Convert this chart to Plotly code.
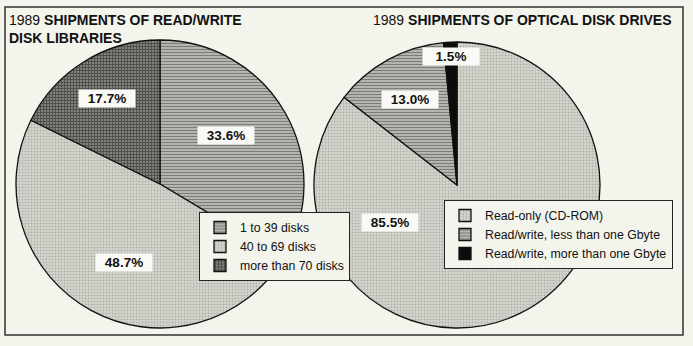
import math
import plotly.graph_objects as go

W, H = 693, 346

# ---- data ----
lib_labels = ["1 to 39 disks", "40 to 69 disks", "more than 70 disks"]
lib_values = [33.6, 48.7, 17.7]
drv_labels = ["Read-only (CD-ROM)", "Read/write, less than one Gbyte", "Read/write, more than one Gbyte"]
drv_values = [85.5, 13.0, 1.5]

title_left = "1989 <b>SHIPMENTS OF READ/WRITE</b><br><b>DISK LIBRARIES</b>"
title_right = "1989 <b>SHIPMENTS OF OPTICAL DISK DRIVES</b>"

# ---- style ----
BG = "#f3f4ec"
FONT = "Liberation Sans, Arial, sans-serif"

# pie geometry (pixels): center x, center y, radius
left_geo = (160, 184, 144)
right_geo = (457, 185, 143)

# label placement: (angle offset deg from slice middle, radial fraction)
lib_label_pos = [(-7, 0.57), (-4, 0.60), (0, 0.70)]
drv_label_pos = [(87, 0.54), (0, 0.68), (0, 0.90)]


def domain(geo):
    cx, cy, r = geo
    return dict(x=[(cx - r) / W, (cx + r) / W], y=[1 - (cy + r) / H, 1 - (cy - r) / H])


fig = go.Figure()

fig.add_trace(go.Pie(
    labels=lib_labels, values=lib_values, sort=False, direction="clockwise", rotation=0,
    domain=domain(left_geo), textinfo="none", hoverinfo="label+percent",
    marker=dict(
        colors=["#bfc1b9", "#cfd1c9", "#6a6c66"],
        line=dict(color="#111111", width=1.3),
        pattern=dict(shape=["-", ".", "+"],
                     fgcolor=["#2e2f2c", "#8a8c86", "#141514"],
                     bgcolor=["#c6c8c0", "#d4d6ce", "#80827c"],
                     size=[3, 3, 3], solidity=[0.5, 0.35, 0.5], fillmode="overlay"),
    ),
    legend="legend", showlegend=True,
))

fig.add_trace(go.Pie(
    labels=drv_labels, values=drv_values, sort=False, direction="clockwise", rotation=0,
    domain=domain(right_geo), textinfo="none", hoverinfo="label+percent",
    marker=dict(
        colors=["#cfd1c9", "#bfc1b9", "#0c0c0c"],
        line=dict(color="#111111", width=1.3),
        pattern=dict(shape=[".", "-", ""],
                     fgcolor=["#8a8c86", "#2e2f2c", "#0c0c0c"],
                     bgcolor=["#d4d6ce", "#c6c8c0", "#0c0c0c"],
                     size=[3, 3, 3], solidity=[0.35, 0.5, 0.5], fillmode="overlay"),
    ),
    legend="legend2", showlegend=True,
))


def label_annotations(values, geo, pos):
    cx, cy, r = geo
    anns = []
    total = sum(values)
    cum = 0.0
    for v, (off, frac) in zip(values, pos):
        mid = (cum + v / 2) / total * 360 + off
        cum += v
        a = math.radians(mid)
        px = cx + frac * r * math.sin(a)
        py = cy - frac * r * math.cos(a)
        anns.append(dict(
            x=px / W, y=1 - py / H, xref="paper", yref="paper",
            xanchor="center", yanchor="middle",
            text="<b>%.1f%%</b>" % v, showarrow=False,
            font=dict(family=FONT, size=13.5, color="#111111"),
            bgcolor="#f9faf5", borderpad=1, width=54,
        ))
    return anns


annotations = label_annotations(lib_values, left_geo, lib_label_pos) + \
    label_annotations(drv_values, right_geo, drv_label_pos)

annotations.append(dict(x=7 / W, y=1 - 10 / H, xref="paper", yref="paper", xanchor="left", yanchor="top",
                        text=title_left, showarrow=False, align="left",
                        font=dict(family=FONT, size=14, color="#111111")))
annotations.append(dict(x=371 / W, y=1 - 10 / H, xref="paper", yref="paper", xanchor="left", yanchor="top",
                        text=title_right, showarrow=False, align="left",
                        font=dict(family=FONT, size=14, color="#111111")))

legend_style = dict(bgcolor=BG, bordercolor="#222222", borderwidth=1,
                    font=dict(family=FONT, size=12.3, color="#111111"),
                    xanchor="left", yanchor="top", traceorder="normal")

fig.update_layout(
    width=W, height=H, margin=dict(l=0, r=0, t=0, b=0),
    paper_bgcolor=BG, plot_bgcolor=BG,
    annotations=annotations,
    legend=dict(x=199 / W, y=1 - 212 / H, **legend_style),
    legend2=dict(x=444 / W, y=1 - 200 / H, **legend_style),
    shapes=[dict(type="rect", xref="paper", yref="paper",
                 x0=5 / W, x1=683 / W, y0=1 - 335 / H, y1=1 - 7 / H,
                 line=dict(color="#333333", width=1.5), layer="below")],
)

fig.write_html("out.html")
